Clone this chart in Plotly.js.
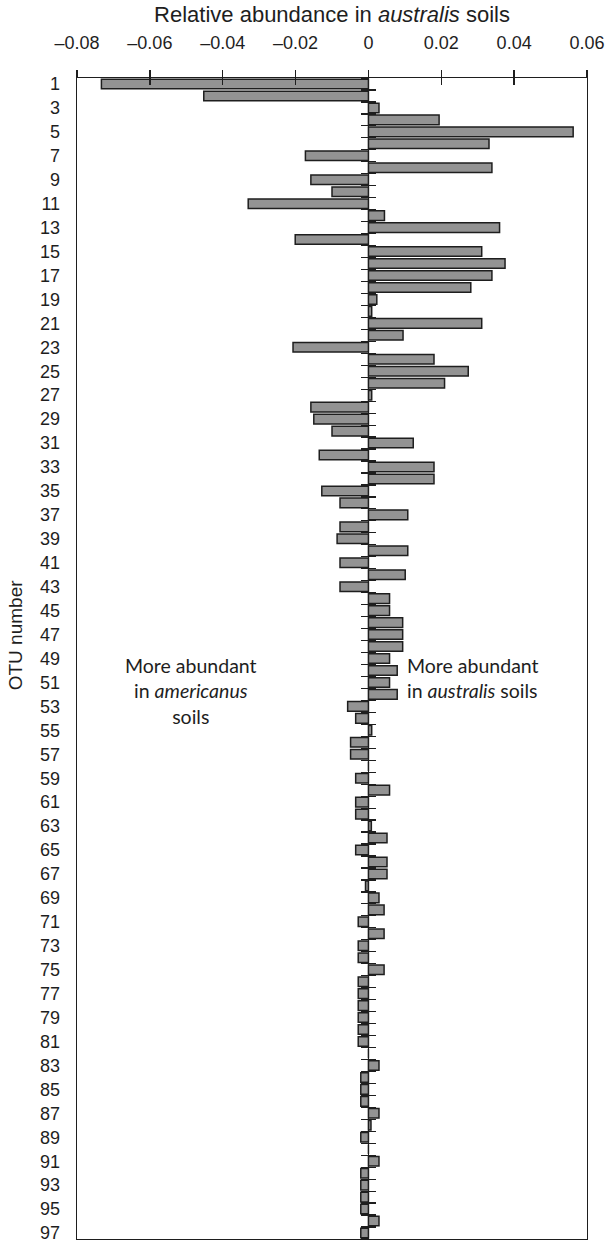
<!DOCTYPE html>
<html>
<head>
<meta charset="utf-8">
<script src="https://cdn.plot.ly/plotly-3.0.1.min.js"></script>
<style>html,body{margin:0;padding:0;background:#fff;}#chart{width:612px;height:1244px;}</style>
</head>
<body>
<div id="chart"></div>
<script>
// OTU numbers 1..97
var otu = [];
for (var i = 1; i <= 97; i++) otu.push(i);

// Relative abundance in australis soils
var abundance = [
  -0.0733, -0.0452, 0.0029, 0.0194, 0.0562, 0.0331, -0.0173, 0.0339, -0.0158, -0.0100,
  -0.0330, 0.0044, 0.0360, -0.0201, 0.0311, 0.0375, 0.0339, 0.0281, 0.0023, 0.0009,
  0.0311, 0.0095, -0.0207, 0.0180, 0.0274, 0.0209, 0.0009, -0.0158, -0.0150, -0.0100,
  0.0123, -0.0135, 0.0180, 0.0180, -0.0128, -0.0078, 0.0108, -0.0078, -0.0086, 0.0108,
  -0.0078, 0.0101, -0.0078, 0.0058, 0.0058, 0.0094, 0.0094, 0.0094, 0.0058, 0.0079,
  0.0058, 0.0079, -0.0057, -0.0035, 0.0009, -0.0049, -0.0049, 0.0000, -0.0035, 0.0058,
  -0.0035, -0.0035, 0.0008, 0.0051, -0.0035, 0.0051, 0.0051, -0.0008, 0.0029, 0.0043,
  -0.0028, 0.0043, -0.0028, -0.0028, 0.0043, -0.0028, -0.0028, -0.0028, -0.0028, -0.0028,
  -0.0028, 0.0000, 0.0029, -0.0021, -0.0021, -0.0021, 0.0029, 0.0007, -0.0021, 0.0000,
  0.0029, -0.0021, -0.0021, -0.0021, -0.0021, 0.0029, -0.0021
];

// Axis ticks
var xTickVals = [-0.08, -0.06, -0.04, -0.02, 0, 0.02, 0.04, 0.06];
var xTickText = ['\u20130.08', '\u20130.06', '\u20130.04', '\u20130.02', '0', '0.02', '0.04', '0.06'];
var yTickVals = otu.filter(function (v) { return v % 2 === 1; });
var yTickText = yTickVals.map(String);
var yBoundaries = [];
for (var b = 0; b <= 97; b++) yBoundaries.push(b + 0.5);

var ink = '#1e1e1e';
var fam = 'Liberation Sans, Arial, sans-serif';
var noteFont = {family: 'Lato, Carlito, sans-serif', size: 19.5, color: ink};

var data = [
  {
    type: 'bar', orientation: 'h',
    x: abundance, y: otu,
    width: 0.8,
    marker: {color: '#939393', line: {color: ink, width: 1.5}},
    hoverinfo: 'x+y'
  },
  {type: 'scatter', x: [], y: [], xaxis: 'x2', yaxis: 'y', hoverinfo: 'skip', showlegend: false},
  {type: 'scatter', x: [], y: [], xaxis: 'x', yaxis: 'y2', hoverinfo: 'skip', showlegend: false},
  {type: 'scatter', x: [], y: [], xaxis: 'x', yaxis: 'y3', hoverinfo: 'skip', showlegend: false}
];

var zeroPos = (0 - (-0.08)) / (0.06 - (-0.08));

var layout = {
  width: 612, height: 1244,
  margin: {l: 77, r: 25, t: 78, b: 5},
  paper_bgcolor: '#fff', plot_bgcolor: '#fff',
  showlegend: false,
  title: {
    text: 'Relative abundance in <i>australis</i> soils',
    font: {family: fam, size: 22, color: ink},
    xref: 'paper', x: 0.5, xanchor: 'center',
    yref: 'container', y: 1 - 14 / 1244, yanchor: 'middle'
  },
  xaxis: {
    side: 'top', range: [-0.08, 0.06],
    tickvals: xTickVals, ticktext: xTickText,
    ticks: 'outside', ticklen: 7, tickwidth: 1.3, tickcolor: ink,
    ticklabelstandoff: 14,
    showline: true, linecolor: ink, linewidth: 1.3, mirror: true,
    showgrid: false,
    zeroline: true, zerolinecolor: ink, zerolinewidth: 1.3,
    tickfont: {family: fam, size: 18, color: ink}
  },
  xaxis2: {
    overlaying: 'x', matches: 'x', side: 'top', anchor: 'y',
    tickvals: xTickVals, showticklabels: false,
    ticks: 'inside', ticklen: 7, tickwidth: 1.3, tickcolor: ink,
    showline: false, showgrid: false, zeroline: false
  },
  yaxis: {
    range: [97.5, 0.5],
    tickvals: yTickVals, ticktext: yTickText,
    ticks: '', ticklabelstandoff: 12,
    showline: true, linecolor: ink, linewidth: 1.3, mirror: true,
    showgrid: false, zeroline: false,
    tickfont: {family: fam, size: 18, color: ink}
  },
  yaxis2: {
    overlaying: 'y', matches: 'y', anchor: 'free', position: zeroPos, side: 'left',
    tickvals: yBoundaries, showticklabels: false,
    ticks: 'outside', ticklen: 7, tickwidth: 1.2, tickcolor: ink,
    showline: false, showgrid: false, zeroline: false
  },
  yaxis3: {
    overlaying: 'y', matches: 'y', anchor: 'free', position: zeroPos, side: 'left',
    tickvals: yBoundaries, showticklabels: false,
    ticks: 'inside', ticklen: 7, tickwidth: 1.2, tickcolor: ink,
    showline: false, showgrid: false, zeroline: false
  },
  annotations: [
    {
      text: 'OTU number', textangle: -90,
      xref: 'paper', yref: 'paper', x: 0, xanchor: 'center', xshift: -62, y: 0.52, yanchor: 'middle',
      showarrow: false, font: {family: fam, size: 19, color: ink}
    },
    {
      text: 'More abundant<br>in <i>americanus</i><br>soils',
      xref: 'x', yref: 'y', x: -0.0487, y: 51.75, align: 'center',
      showarrow: false, font: noteFont
    },
    {
      text: 'More abundant<br>in <i>australis</i> soils',
      xref: 'x', yref: 'y', x: 0.0100, y: 50.67, xanchor: 'left', align: 'left',
      showarrow: false, font: noteFont
    }
  ]
};

Plotly.newPlot('chart', data, layout, {displayModeBar: false, staticPlot: true});
</script>
</body>
</html>
